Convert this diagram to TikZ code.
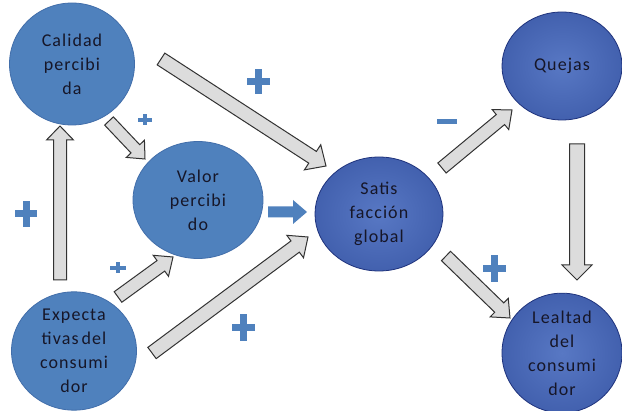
\documentclass[tikz,border=0pt]{standalone}
\usepackage{fontspec}
\setmainfont{Carlito}[LetterSpace=6]
\usetikzlibrary{shapes.geometric,calc}

\definecolor{lightblue}{RGB}{79,129,189}
\definecolor{lightrim}{RGB}{66,110,170}
\definecolor{darkin}{RGB}{88,120,196}
\definecolor{darkmid}{RGB}{62,92,170}
\definecolor{darkout}{RGB}{30,50,124}
\definecolor{arrowfill}{RGB}{220,220,220}
\definecolor{arrowrim}{RGB}{50,50,50}
\definecolor{txt}{RGB}{22,22,40}

\pgfdeclareradialshading{deepglow}{\pgfpoint{0bp}{0bp}}{%
  color(0bp)=(darkin); color(30bp)=(darkmid);
  color(50bp)=(darkout); color(100bp)=(darkout)}

\tikzset{
  ball/.style={ellipse, inner sep=0pt, align=center, text=txt,
    font=\fontsize{18}{24}\selectfont},
  lightball/.style={ball, fill=lightblue, draw=lightrim, line width=0.8pt},
  deepball/.style={ball, shading=deepglow, draw=darkout, line width=0.8pt},
  blk/.style={fill=arrowfill, draw=arrowrim, line width=1pt, line join=miter},
  bluearrow/.style={fill=lightblue},
  signmark/.style={fill=lightblue}
}

% block arrow: [style]{tail}{tip}{shaft half width}{head half width}{head length}
\newcommand{\blockarrow}[6][blk]{%
  \coordinate (hb) at ($(#3)!#6!(#2)$);
  \path[#1] ($(#2)!#4!90:(#3)$) -- ($(hb)!#4!90:(#3)$) -- ($(hb)!#5!90:(#3)$)
    -- (#3) -- ($(hb)!#5!-90:(#3)$) -- ($(hb)!#4!-90:(#3)$)
    -- ($(#2)!#4!-90:(#3)$) -- cycle;
}

% plus sign: {x}{y}{width}{height}{bar thickness}
\newcommand{\plusmark}[5]{%
  \fill[signmark] (#1-#3/2, #2-#5/2) rectangle (#1+#3/2, #2+#5/2);
  \fill[signmark] (#1-#5/2, #2-#4/2) rectangle (#1+#5/2, #2+#4/2);
}

\begin{document}
\begin{tikzpicture}[x=1pt, y=-1pt]
\fill[white] (0,0) rectangle (622,411);
\useasboundingbox (0,0) rectangle (622,411);

% constructs
\node[lightball, minimum width=125pt, minimum height=122pt] (cal) at (72,64) {Calidad\\percibi\\da};
\node[lightball, minimum width=130pt, minimum height=117pt] (val) at (198,200) {Valor\\percibi\\do};
\node[lightball, minimum width=125pt, minimum height=118pt] (exp) at (74,351) {Expecta\\tivas\,del\\consumi\\dor};
\node[deepball, minimum width=128pt, minimum height=114pt] (sat) at (379,214) {Satis\\facción\\global};
\node[deepball, minimum width=120pt, minimum height=108pt] (que) at (562,66) {Quejas};
\node[deepball, minimum width=120pt, minimum height=116pt] (lea) at (562,353) {Lealtad\\del\\consumi\\dor};

% arrow ends
\coordinate (ec-tail) at (60,280);  \coordinate (ec-tip) at (60,126);
\coordinate (cs-tail) at (161,59);  \coordinate (cs-tip) at (326,166);
\coordinate (cv-tail) at (109,121); \coordinate (cv-tip) at (145,159);
\coordinate (ev-tail) at (118,297); \coordinate (ev-tip) at (173,257);
\coordinate (es-tail) at (152,353); \coordinate (es-tip) at (308,237);
\coordinate (vs-tail) at (268,212); \coordinate (vs-tip) at (307,212);
\coordinate (sq-tail) at (442,168); \coordinate (sq-tip) at (512,110);
\coordinate (sl-tail) at (446,256); \coordinate (sl-tip) at (510,318);
\coordinate (ql-tail) at (577,144); \coordinate (ql-tip) at (577,280);

% arrows
\blockarrow{ec-tail}{ec-tip}{6.5pt}{13.5pt}{14pt}
\blockarrow{cs-tail}{cs-tip}{7pt}{15pt}{16pt}
\blockarrow{cv-tail}{cv-tip}{6pt}{12.5pt}{14pt}
\blockarrow{ev-tail}{ev-tip}{6.5pt}{13pt}{15pt}
\blockarrow{es-tail}{es-tip}{7pt}{14pt}{16pt}
\blockarrow[bluearrow]{vs-tail}{vs-tip}{5.5pt}{12pt}{14pt}
\blockarrow{sq-tail}{sq-tip}{6.5pt}{13pt}{15pt}
\blockarrow{sl-tail}{sl-tip}{6.5pt}{13pt}{15pt}
\blockarrow{ql-tail}{ql-tip}{7.5pt}{15pt}{15pt}

% signs
\plusmark{258}{82}{23}{25}{7}
\plusmark{145}{120}{14}{11}{4}
\plusmark{26}{214}{22}{26}{7}
\plusmark{118}{268}{16}{11}{4}
\plusmark{243}{328}{23}{27}{7}
\plusmark{494}{269}{23}{27}{7}
\fill[signmark] (437,119.5) rectangle (457,124.5);
\end{tikzpicture}
\end{document}
